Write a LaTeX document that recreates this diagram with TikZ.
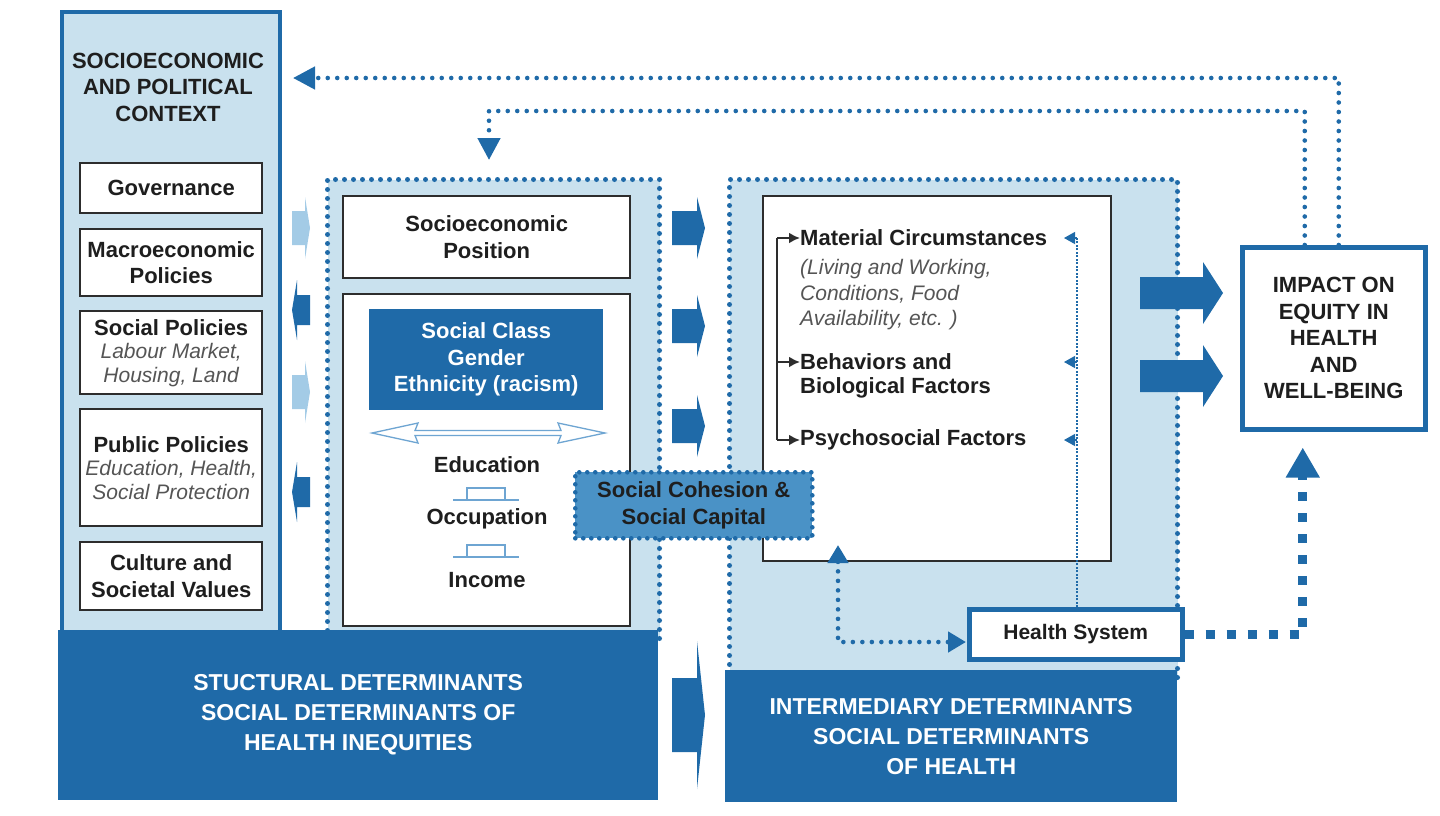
\documentclass[tikz,border=0pt]{standalone}
\usepackage{fontspec}
\setmainfont{Liberation Sans}
\usetikzlibrary{arrows.meta,calc}
\definecolor{dblue}{RGB}{31,106,168}
\definecolor{lblue}{RGB}{201,225,238}
\definecolor{mblue}{RGB}{74,146,198}
\definecolor{pblue}{RGB}{163,203,230}
\definecolor{hblue}{RGB}{110,165,210}
\definecolor{gbord}{RGB}{45,45,45}
\definecolor{txt}{RGB}{30,30,30}
\definecolor{itg}{RGB}{85,85,85}
\newcommand\itl[1]{{\fontsize{21}{23}\selectfont\mdseries\itshape\color{itg}#1}}
\begin{document}
\begin{tikzpicture}[x=1pt,y=-1pt,
 bt/.style={font=\fontsize{22}{26.5}\selectfont\bfseries,text=txt,align=center,inner sep=0pt},
 ctxbox/.style={draw=dblue,line width=4pt,fill=lblue,inner sep=0pt},
 dotbox/.style={draw=dblue,fill=lblue,line width=5pt,dash pattern=on 0pt off 9pt,line cap=round,inner sep=0pt},
 wbox/.style={bt,draw=gbord,line width=2.4pt,fill=white},
 bar/.style={fill=dblue,text=white,font=\fontsize{23}{30}\selectfont\bfseries,align=center,inner sep=0pt},
 bluebox/.style={bt,draw=dblue,line width=4.5pt,fill=white},
 fbline/.style={draw=dblue,line width=4.6pt,dash pattern=on 0pt off 9.5pt,line cap=round},
 fbhead/.style={-{Triangle[length=22pt,width=22pt]}},
 sqline/.style={draw=dblue,line width=9pt,dash pattern=on 9pt off 12pt},
 thindot/.style={draw=dblue,line width=1.4pt,dash pattern=on 2pt off 1.5pt},
 brk/.style={draw=gbord,line width=2.4pt},
 brkarr/.style={brk,-{Latex[length=11pt,width=11pt]}},
 smallhead/.style={draw=dblue,line width=1.2pt,-{Triangle[length=11pt,width=12pt]}},
 pics/barrow/.style n args={4}{code={\path[pic actions] (0,-#2)--(#1,-#2)--(#1,-#3)--(#4,0)--(#1,#3)--(#1,#2)--(0,#2)--cycle;}},
 pics/stepsym/.style={code={\draw[pic actions] (-33,0)--(33,0); \draw[pic actions] (-19,0)--(-19,-12)--(19,-12)--(19,0);}}
]
\useasboundingbox (0,0) rectangle (1440,815);

% backgrounds
\node[ctxbox,minimum width=218pt,minimum height=625pt,anchor=north west] (ctx) at (60,10) {};
\node[dotbox,minimum width=332pt,minimum height=460pt,anchor=north west] (midbox) at (325,177) {};
\node[dotbox,minimum width=448pt,minimum height=500pt,anchor=north west] (intbox) at (727,177) {};
\node[bar,minimum width=600pt,minimum height=170pt,anchor=north west] (struct) at (58,630) {STUCTURAL DETERMINANTS\\SOCIAL DETERMINANTS OF\\HEALTH INEQUITIES};
\node[bar,minimum width=452pt,minimum height=132pt,anchor=north west] (inter) at (725,670) {INTERMEDIARY DETERMINANTS\\SOCIAL DETERMINANTS\\OF HEALTH};

% left column
\node[bt] (ctxt) at (168,87) {SOCIOECONOMIC\\AND POLITICAL\\CONTEXT};
\node[wbox,minimum width=182pt,minimum height=50pt,anchor=north west] (gov) at (79,162) {Governance};
\node[wbox,minimum width=182pt,minimum height=67pt,anchor=north west] (macro) at (79,228) {Macroeconomic\\Policies};
\node[wbox,minimum width=182pt,minimum height=83pt,anchor=north west] (socpol) at (79,310) {Social Policies\\[-3pt]\itl{Labour Market,}\\[-3pt]\itl{Housing, Land}};
\node[wbox,minimum width=182pt,minimum height=117pt,anchor=north west] (pubpol) at (79,408) {Public Policies\\[-3pt]\itl{Education, Health,}\\[-3pt]\itl{Social Protection}};
\node[wbox,minimum width=182pt,minimum height=68pt,anchor=north west] (cult) at (79,541) {Culture and\\Societal Values};

% small arrows between context and position
\pic[fill=pblue] at (292,228) {barrow={13}{17}{31}{18}};
\pic[fill=dblue] at (310,310) {barrow={-13}{15}{30}{-18}};
\pic[fill=pblue] at (292,392) {barrow={13}{17}{31}{18}};
\pic[fill=dblue] at (310,492) {barrow={-13}{15}{30}{-18}};

% middle column
\node[wbox,minimum width=287pt,minimum height=82pt,anchor=north west] (sep) at (342,195) {Socioeconomic\\Position};
\node[wbox,minimum width=287pt,minimum height=332pt,anchor=north west] (sepbig) at (342,293) {};
\node[bt,fill=dblue,text=white,minimum width=234pt,minimum height=101pt,anchor=north west] (cls) at (369,309) {Social Class\\Gender\\Ethnicity (racism)};
\draw[hblue,line width=1.3pt,fill=white] (372,433) -- (418,423) -- (415,430.5) -- (561,430.5) -- (558,423) -- (605,433) -- (558,443) -- (561,435.5) -- (415,435.5) -- (418,443) -- cycle;
\node[bt] (edu) at (487,465) {Education};
\pic[draw=hblue,line width=1.5pt] at (486,500) {stepsym};
\node[bt] (occ) at (487,519) {Occupation};
\pic[draw=hblue,line width=1.5pt] at (486,557) {stepsym};
\node[bt] (inc) at (487,580) {Income};

% big arrows middle -> right
\pic[fill=dblue] at (672,228) {barrow={25}{17}{31}{33}};
\pic[fill=dblue] at (672,326) {barrow={25}{17}{31}{33}};
\pic[fill=dblue] at (672,426) {barrow={25}{17}{31}{33}};
\pic[fill=dblue] at (672,715) {barrow={25}{37}{74}{33}};

% right column
\node[draw=gbord,line width=2.4pt,fill=white,minimum width=348pt,minimum height=365pt,anchor=north west] (mbox) at (762,195) {};
\node[bt,anchor=west] (mat) at (800,238) {Material Circumstances};
\node[anchor=west,align=left,inner sep=0pt,font=\fontsize{21}{25.5}\selectfont\itshape,text=itg] (matit) at (800,295) {(Living and Working,\\Conditions, Food\\Availability, etc. )};
\node[bt,anchor=west] (beh1) at (800,362) {Behaviors and};
\node[bt,anchor=west] (beh2) at (800,388) {Biological Factors};
\node[bt,anchor=west] (psy) at (800,440) {Psychosocial Factors};
\coordinate (bk) at (777,0);
\draw[brk] (bk |- mat.west) -- (bk |- psy.west);
\draw[brkarr] (bk |- mat.west) -- (mat.west);
\draw[brkarr] (bk |- beh1.west) -- (beh1.west);
\draw[brkarr] (bk |- psy.west) -- (psy.west);

\node[bt,fill=mblue,draw=dblue,line width=4.6pt,dash pattern=on 0pt off 8pt,line cap=round,minimum width=237pt,minimum height=66pt,anchor=north west] (coh) at (573,470) {Social Cohesion \&\\Social Capital};

\node[bluebox,font=\fontsize{21}{25}\selectfont\bfseries,minimum width=213pt,minimum height=50pt,anchor=north west] (hs) at (967,607) {Health System};

\coordinate (tl) at (1077,237);
\draw[thindot] (tl |- hs.north) -- (tl);
\draw[smallhead] (tl |- mat.east) -- ++(-13,0);
\draw[smallhead] (tl |- beh1.east) -- ++(-13,0);
\draw[smallhead] (tl |- psy.east) -- ++(-13,0);

\coordinate (upt) at (838,545);
\coordinate (hsin) at (966,642);
\draw[fbline,{Triangle[length=18pt,width=20pt]}-{Triangle[length=18pt,width=20pt]}] (upt) |- (hsin);

% impact
\node[bluebox,minimum width=183pt,minimum height=182pt,anchor=north west] (imp) at (1240,245) {IMPACT ON\\EQUITY IN\\HEALTH\\AND\\WELL-BEING};
\pic[fill=dblue] at (1140,293) {barrow={63}{16}{31}{83}};
\pic[fill=dblue] at (1140,376) {barrow={63}{16}{31}{83}};

\draw[sqline,-{Triangle[length=30pt,width=32pt]}] (hs.east) -| ($(imp.south)+(-31,16)$);

% feedback loops
\coordinate (fb1) at (293,78);
\draw[fbline,fbhead] ($(imp.north)+(5,0)$) |- (fb1);
\coordinate (fb2c) at (489,111);
\coordinate (fb2) at (489,160);
\draw[fbline,fbhead] ($(imp.north)+(-29,0)$) |- (fb2c) -- (fb2);
\end{tikzpicture}
\end{document}
